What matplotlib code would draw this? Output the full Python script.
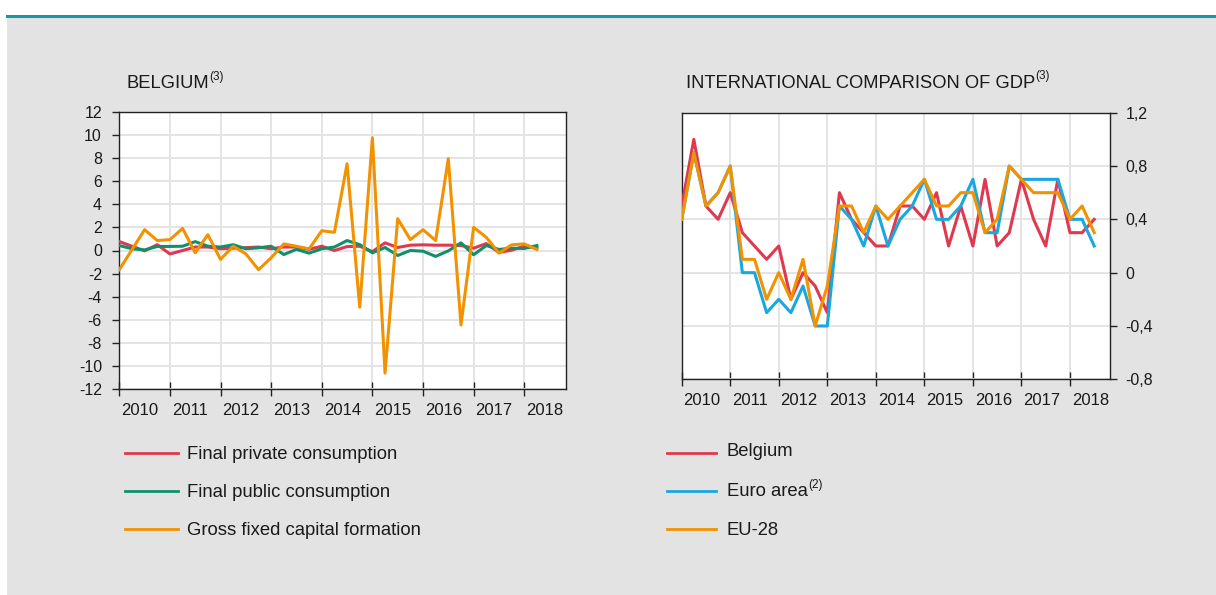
import matplotlib
matplotlib.use("Agg")
import matplotlib.pyplot as plt
from matplotlib.patches import Rectangle
from matplotlib.lines import Line2D
import numpy as np

plt.rcParams['font.family'] = ['Liberation Sans', 'DejaVu Sans']

# ---------------- data ----------------
years = ["2010", "2011", "2012", "2013", "2014", "2015", "2016", "2017", "2018"]

# Belgium components (quarterly % change, 2010Q1 - 2018Q2)
private_cons = [0.77, 0.37, -0.03, 0.5, -0.3, 0.0, 0.3, 0.3, 0.15, 0.2, 0.25, 0.3,
                0.15, 0.3, 0.3, 0.1, 0.37, 0.0, 0.34, 0.37, -0.1, 0.66, 0.26, 0.46,
                0.49, 0.46, 0.46, 0.43, 0.2, 0.6, -0.17, 0.03, 0.37, 0.2]
public_cons = [0.43, 0.15, 0.05, 0.35, 0.35, 0.37, 0.77, 0.37, 0.3, 0.5, 0.15, 0.23,
               0.37, -0.35, 0.1, -0.23, 0.15, 0.3, 0.86, 0.51, -0.2, 0.26, -0.43, 0.0,
               -0.06, -0.51, -0.03, 0.66, -0.37, 0.43, 0.09, 0.2, 0.17, 0.43]
gfcf = [-1.66, 0.07, 1.8, 0.86, 0.94, 1.91, -0.2, 1.37, -0.77, 0.37, -0.29, -1.66,
        -0.63, 0.57, 0.37, 0.14, 1.71, 1.57, 7.5, -4.9, 9.75, -10.6, 2.75, 0.94,
        1.8, 0.86, 7.94, -6.44, 2.0, 1.14, -0.23, 0.49, 0.57, 0.09]

# International comparison of GDP (2010Q1 - 2018Q3)
belgium = [0.5, 1.0, 0.5, 0.4, 0.6, 0.3, 0.2, 0.1, 0.2, -0.2, 0.0, -0.1, -0.3,
           0.6, 0.4, 0.3, 0.2, 0.2, 0.5, 0.5, 0.4, 0.6, 0.2, 0.5, 0.2, 0.7, 0.2,
           0.3, 0.7, 0.4, 0.2, 0.7, 0.3, 0.3, 0.4]
euro_area = [0.4, 0.9, 0.5, 0.6, 0.8, 0.0, 0.0, -0.3, -0.2, -0.3, -0.1, -0.4, -0.4,
             0.5, 0.4, 0.2, 0.5, 0.2, 0.4, 0.5, 0.7, 0.4, 0.4, 0.5, 0.7, 0.3, 0.3,
             0.8, 0.7, 0.7, 0.7, 0.7, 0.4, 0.4, 0.2]
eu28 = [0.4, 0.9, 0.5, 0.6, 0.8, 0.1, 0.1, -0.2, 0.0, -0.2, 0.1, -0.4, -0.1,
        0.5, 0.5, 0.3, 0.5, 0.4, 0.5, 0.6, 0.7, 0.5, 0.5, 0.6, 0.6, 0.3, 0.4,
        0.8, 0.7, 0.6, 0.6, 0.6, 0.4, 0.5, 0.3]

left_labels = ["Final private consumption", "Final public consumption",
               "Gross fixed capital formation"]
right_labels = ["Belgium", "Euro area", "EU-28"]

RED = "#E0394F"
GREEN = "#10906A"
ORANGE = "#F39200"
BLUE = "#18A8E0"
TEAL = "#1797A0"
BG = "#E3E3E3"
GRID = "#E4E4E4"
TXT = "#1a1a1a"

W, H = 1216, 595
fig = plt.figure(figsize=(W / 100, H / 100), dpi=100)
fig.patch.set_facecolor("white")


def px(x0, y0, x1, y1):
    return [x0 / W, 1 - y1 / H, (x1 - x0) / W, (y1 - y0) / H]


# background panel and teal rule
fig.patches.append(Rectangle((7 / W, 0), 1 - 7 / W, 1 - 15 / H, transform=fig.transFigure,
                             facecolor=BG, edgecolor="none", zorder=-5))
fig.lines.append(Line2D([7 / W, 1], [1 - 15.5 / H, 1 - 15.5 / H], transform=fig.transFigure,
                        color=TEAL, lw=2.2, zorder=-4))


def style_axis(ax, yticks, ylim, ylabels, right=False):
    ax.set_zorder(2)
    ax.set_facecolor("white")
    ax.set_xlim(0, 35.3)
    ax.set_ylim(*ylim)
    ax.set_yticks(yticks)
    ax.set_yticklabels(ylabels)
    ax.set_xticks([4 * k for k in range(9)])
    ax.set_xticklabels([])
    ax.set_xticks([4 * k + 0.15 for k in range(9)], minor=True)
    ax.set_xticklabels(years, minor=True, ha="left")
    ax.tick_params(axis="x", which="major", direction="inout", length=10, width=1, color="#222222")
    ax.tick_params(axis="x", which="minor", length=0, pad=10, labelsize=12, labelcolor=TXT)
    ax.tick_params(axis="y", direction="out", length=5, width=1, color="#222222",
                   labelsize=11.5, labelcolor=TXT, pad=6 if right else 7.5)
    if right:
        ax.yaxis.tick_right()
    ax.grid(True, which="major", color=GRID, lw=1.4)
    ax.set_axisbelow(True)
    for s in ax.spines.values():
        s.set_color("#222222")
        s.set_linewidth(1)


# ---------- left chart ----------
axL = fig.add_axes(px(119.3, 111.7, 566, 389.3))
xl = np.arange(len(gfcf))
axL.plot(xl, private_cons, color=RED, lw=2.2, zorder=3)
axL.plot(xl, public_cons, color=GREEN, lw=2.2, zorder=4)
axL.plot(xl, gfcf, color=ORANGE, lw=2.2, zorder=5)
lt = list(range(-12, 13, 2))
style_axis(axL, lt, (-12, 12), [str(v) for v in lt])

# ---------- right chart ----------
axR = fig.add_axes(px(681.7, 112.7, 1110, 379.3))
xr = np.arange(len(belgium))
axR.plot(xr, belgium, color=RED, lw=2.2, zorder=3)
axR.plot(xr, euro_area, color=BLUE, lw=2.2, zorder=4)
axR.plot(xr, eu28, color=ORANGE, lw=2.2, zorder=5)
rt = [-0.8, -0.4, 0, 0.4, 0.8, 1.2]
rl = [("%g" % v).replace(".", ",") for v in rt]
style_axis(axR, rt, (-0.8, 1.2), rl, right=True)

# ---------- titles with superscripts ----------
renderer = fig.canvas.get_renderer()


def title_with_sup(x, y, main, sup, size=13.2, supsize=8.5):
    t = fig.text(x / W, 1 - y / H, main, fontsize=size, color=TXT, va="baseline", ha="left")
    bb = t.get_window_extent(renderer)
    fig.text(bb.x1 / W + 0.5 / W, 1 - (y - 8) / H, sup, fontsize=supsize, color=TXT,
             va="baseline", ha="left")


title_with_sup(126, 88, "BELGIUM", "(3)")
title_with_sup(686, 87.5, "INTERNATIONAL COMPARISON OF GDP", "(3)")

# ---------- legends ----------
def legend_item(x0, x1, y, color, tx, label, ty=None, sup=None):
    fig.lines.append(Line2D([x0 / W, x1 / W], [1 - y / H, 1 - y / H], transform=fig.transFigure,
                            color=color, lw=2.0))
    ty = y if ty is None else ty
    t = fig.text(tx / W, 1 - ty / H, label, fontsize=13.3, color=TXT, va="center", ha="left")
    if sup:
        bb = t.get_window_extent(renderer)
        fig.text(bb.x1 / W + 0.5 / W, 1 - (ty - 3) / H, sup, fontsize=8.5, color=TXT,
                 va="baseline", ha="left")


for y, c, lab in zip([453.3, 491, 529], [RED, GREEN, ORANGE], left_labels):
    legend_item(125, 177.7, y, c, 186.7, lab, ty=y + 1.5)

legend_item(666.7, 715.7, 453.3, RED, 726.7, right_labels[0], ty=452)
legend_item(666.7, 715.7, 491, BLUE, 726.7, right_labels[1], ty=491, sup="(2)")
legend_item(666.7, 715.7, 529, ORANGE, 726.7, right_labels[2], ty=530.5)

fig.savefig("out.png", dpi=100, facecolor="white")
